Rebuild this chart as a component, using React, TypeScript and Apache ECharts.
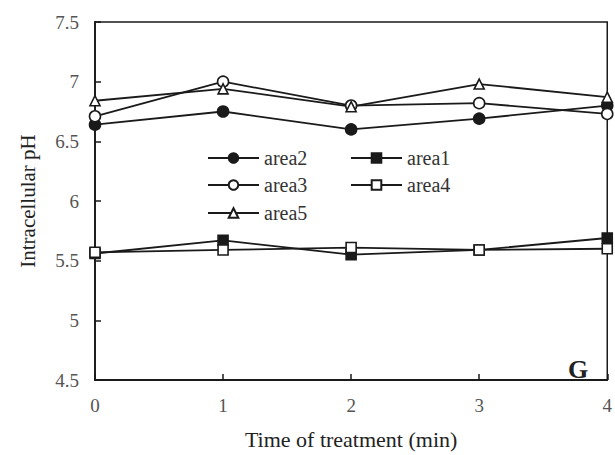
import React, { useEffect, useRef } from "react";
import * as echarts from "echarts";

const times = [0, 1, 2, 3, 4];
const area2 = [6.64, 6.75, 6.6, 6.69, 6.8];
const area3 = [6.71, 7.0, 6.8, 6.82, 6.73];
const area5 = [6.84, 6.94, 6.79, 6.98, 6.87];
const area1 = [5.56, 5.67, 5.55, 5.59, 5.69];
const area4 = [5.57, 5.59, 5.61, 5.59, 5.6];

const FONT = "Liberation Serif";

export default function App() {
  const ref = useRef<HTMLDivElement>(null);
  useEffect(() => {
    if (!ref.current) return;
    const chart = echarts.init(ref.current, null, { renderer: "svg" });
    const mk = (
      name: string,
      vals: number[],
      symbol: string,
      filled: boolean,
      size: number
    ) => ({
      name,
      type: "line",
      data: times.map((t, i) => [t, vals[i]]),
      symbol,
      symbolSize: size,
      lineStyle: { color: "#1a1a1a", width: 1.8 },
      itemStyle: {
        color: filled ? "#1a1a1a" : "#ffffff",
        borderColor: "#1a1a1a",
        borderWidth: 1.6,
      },
    });
    const legendItem = (name: string, left: number, top: number) => ({
      data: [name],
      left,
      top,
      itemWidth: 51,
      itemHeight: 12,
      selectedMode: false,
      textStyle: { fontFamily: FONT, fontSize: 20, color: "#333" },
    });
    chart.setOption({
      animation: false,
      backgroundColor: "#ffffff",
      grid: {
        left: 95,
        top: 22,
        right: 4,
        bottom: 69,
        show: true,
        borderColor: "#1a1a1a",
        borderWidth: 1.5,
      },
      legend: [
        legendItem("area2", 202, 143),
        legendItem("area1", 345, 143),
        legendItem("area3", 202, 170),
        legendItem("area4", 345, 170),
        legendItem("area5", 202, 198),
      ],
      xAxis: {
        type: "value",
        min: 0,
        max: 4,
        interval: 1,
        name: "Time of treatment (min)",
        nameLocation: "middle",
        nameGap: 48,
        nameTextStyle: { fontFamily: FONT, fontSize: 22, color: "#222" },
        axisLine: { lineStyle: { color: "#1a1a1a", width: 1.8 } },
        axisTick: { inside: true, length: 6, lineStyle: { color: "#1a1a1a", width: 1.5 } },
        axisLabel: { fontFamily: FONT, fontSize: 19, color: "#555", margin: 16 },
        splitLine: { show: false },
      },
      yAxis: {
        type: "value",
        min: 4.5,
        max: 7.5,
        interval: 0.5,
        name: "Intracellular pH",
        nameLocation: "middle",
        nameGap: 57,
        nameTextStyle: { fontFamily: FONT, fontSize: 21, color: "#222" },
        axisLine: { show: true, lineStyle: { color: "#1a1a1a", width: 1.8 } },
        axisTick: { show: true, inside: true, length: 6, lineStyle: { color: "#1a1a1a", width: 1.5 } },
        axisLabel: { fontFamily: FONT, fontSize: 19, color: "#555", margin: 16 },
        splitLine: { show: false },
      },
      graphic: [
        {
          type: "text",
          left: 568,
          top: 356,
          style: {
            text: "G",
            fontFamily: FONT,
            fontSize: 26,
            fontWeight: "bold",
            fill: "#222",
          },
        },
      ],
      series: [
        mk("area2", area2, "circle", true, 11),
        mk("area1", area1, "rect", true, 10),
        mk("area3", area3, "circle", false, 11),
        mk("area4", area4, "rect", false, 10),
        mk("area5", area5, "triangle", false, 10),
      ],
    });
    return () => chart.dispose();
  }, []);
  return (
    <div
      ref={ref}
      style={{ position: "absolute", left: 0, top: 0, width: 615, height: 455 }}
    />
  );
}
